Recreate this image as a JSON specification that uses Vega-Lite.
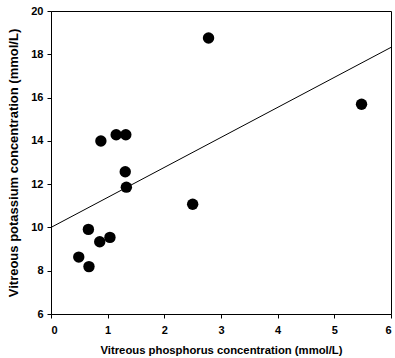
{
  "$schema": "https://vega.github.io/schema/vega-lite/v6.json",
  "autosize": {"type": "none"},
  "width": 340,
  "height": 303,
  "padding": {"left": 51, "top": 11, "right": 4, "bottom": 44},
  "background": "white",
  "config": {
    "view": {"stroke": "black", "strokeWidth": 1},
    "axis": {
      "domainColor": "black", "tickColor": "black", "labelColor": "black", "titleColor": "black",
      "labelFont": "Liberation Sans", "titleFont": "Liberation Sans",
      "labelFontWeight": "bold", "titleFontWeight": "bold",
      "labelFontSize": 11, "titleFontSize": 11.3, "tickSize": 4, "grid": false
    }
  },
  "datasets": {
    "points": [
      {"p": 0.49, "k": 8.63},
      {"p": 0.67, "k": 8.19},
      {"p": 0.66, "k": 9.91},
      {"p": 0.86, "k": 9.34},
      {"p": 1.04, "k": 9.54},
      {"p": 0.88, "k": 13.99},
      {"p": 1.15, "k": 14.28},
      {"p": 1.32, "k": 14.28},
      {"p": 1.31, "k": 12.57},
      {"p": 1.33, "k": 11.86},
      {"p": 2.5, "k": 11.07},
      {"p": 2.78, "k": 18.75},
      {"p": 5.48, "k": 15.69}
    ],
    "fit": [
      {"p": 0, "k": 10.0},
      {"p": 6, "k": 18.32}
    ]
  },
  "layer": [
    {
      "data": {"name": "fit"},
      "mark": {"type": "line", "color": "black", "strokeWidth": 1},
      "encoding": {
        "x": {"field": "p", "type": "quantitative", "scale": {"domain": [0, 6], "nice": false},
              "axis": {"values": [0,1,2,3,4,5,6], "format": "d", "title": "Vitreous phosphorus concentration (mmol/L)", "labelPadding": 6, "titlePadding": 9}},
        "y": {"field": "k", "type": "quantitative", "scale": {"domain": [6, 20], "nice": false, "zero": false},
              "axis": {"values": [6,8,10,12,14,16,18,20], "format": "d", "title": "Vitreous potassium concentration (mmol/L)", "titleFontSize": 13, "labelPadding": 4, "titlePadding": 10}}
      }
    },
    {
      "data": {"name": "points"},
      "mark": {"type": "point", "filled": true, "color": "black", "opacity": 1, "size": 130},
      "encoding": {
        "x": {"field": "p", "type": "quantitative"},
        "y": {"field": "k", "type": "quantitative"}
      }
    }
  ]
}
